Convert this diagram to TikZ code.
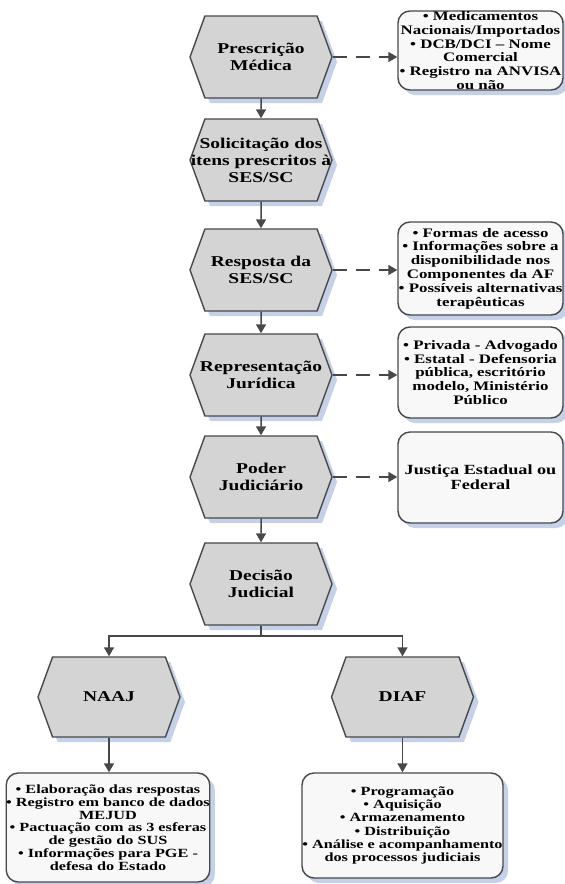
\documentclass[tikz,border=0pt]{standalone}
\usepackage{fontspec}
\setmainfont{Liberation Serif}[FakeStretch=1.3]
\usetikzlibrary{shapes,arrows,shadows}
\usetikzlibrary{arrows.meta}
\definecolor{hexgray}{RGB}{212,212,212}
\definecolor{edgegray}{RGB}{72,72,72}
\definecolor{boxwhite}{RGB}{248,248,248}
\definecolor{shadowblue}{RGB}{196,209,233}
\tikzset{%
  >={Triangle[width=10pt,length=9pt]},
  % Specifications for style of nodes:
        base/.style = {draw=edgegray, line width=1.4pt, align=center,
                       general shadow={fill=shadowblue, shadow xshift=5pt,
                                       shadow yshift=-5pt}},
       etapa/.style = {base, signal, signal to=east and west,
                       signal pointer angle=140, fill=hexgray,
                       minimum width=142pt, minimum height=82pt,
                       inner xsep=-15pt, inner ysep=0pt,
                       font=\fontsize{15}{17}\selectfont\bfseries},
     detalhe/.style = {base, rectangle, rounded corners=12pt, fill=boxwhite,
                       inner sep=0pt,
                       font=\fontsize{13}{13.8}\selectfont\bfseries},
       linha/.style = {draw=edgegray, line width=1.5pt},
}

\begin{document}
\begin{tikzpicture}[x=1pt, y=-1pt]
  \useasboundingbox (0,0) rectangle (565,884);
  % Specification of nodes (position, etc.)

\node (presc) at (261,57)   [etapa]  {Prescrição\\Médica};
\node (solic) at (261,160)  [etapa]  {Solicitação dos\\itens prescritos à\\SES/SC};
\node (resp)  at (261,270)  [etapa]  {Resposta da\\SES/SC};
\node (repr)  at (261,375)  [etapa]  {Representação\\Jurídica};
\node (poder) at (261,477)  [etapa]  {Poder\\Judiciário};
\node (decis) at (261,584)  [etapa]  {Decisão\\Judicial};
\node (naaj)  at (109,697)  [etapa, minimum height=80pt]  {NAAJ};
\node (diaf)  at (402.5,697) [etapa, minimum height=80pt] {DIAF};

\node (medic) at (480.5,50.5) [detalhe, minimum width=165pt, minimum height=79pt]
      {• Medicamentos\\Nacionais/Importados\\• DCB/DCI – Nome\\Comercial\\• Registro na ANVISA\\ou não};
\node (acesso) at (480.5,268.5) [detalhe, minimum width=165pt, minimum height=93pt]
      {• Formas de acesso\\• Informações sobre a\\disponibilidade nos\\Componentes da AF\\• Possíveis alternativas\\terapêuticas};
\node (advog) at (480.5,372.5) [detalhe, minimum width=165pt, minimum height=91pt]
      {• Privada - Advogado\\• Estatal - Defensoria\\pública, escritório\\modelo, Ministério\\Público};
\node (justica) at (480.5,477.5) [detalhe, minimum width=165pt, minimum height=91pt,
      font=\fontsize{14}{15}\selectfont\bfseries]
      {Justiça Estadual ou\\Federal};

\node (naajres) at (108,827.5) [detalhe, minimum width=200pt, minimum height=109pt,
      font=\fontsize{12.5}{12.8}\selectfont\bfseries]
      {• Elaboração das respostas\\• Registro em banco de dados\\MEJUD\\• Pactuação com as 3 esferas\\de gestão do SUS\\• Informações para PGE -\\defesa do Estado};
\node (diafres) at (402.5,825.5) [detalhe, minimum width=201pt, minimum height=105pt,
      font=\fontsize{12.5}{13.3}\selectfont\bfseries]
      {• Programação\\• Aquisição\\• Armazenamento\\• Distribuição\\• Análise e acompanhamento\\dos processos judiciais};

\draw[linha,->]     (presc) -- (solic);
\draw[linha,->]     (solic) -- (resp);
\draw[linha,->]     (resp) -- (repr);
\draw[linha,->]     (repr) -- (poder);
\draw[linha,->]     (poder) -- (decis);

\draw[linha,->,dash pattern=on 14pt off 9pt] (presc.east) -- (presc.east -| medic.west);
\draw[linha,->,dash pattern=on 14pt off 9pt] (resp.east) -- (resp.east -| acesso.west);
\draw[linha,->,dash pattern=on 14pt off 9pt] (repr.east) -- (repr.east -| advog.west);
\draw[linha,->,dash pattern=on 14pt off 9pt] (poder.east) -- (poder.east -| justica.west);

\coordinate (ramo) at (261,636);
\draw[linha]        (decis.south) -- (ramo);
\draw[linha,->]     (ramo) -| (naaj.north);
\draw[linha,->]     (ramo) -| (diaf.north);

\draw[linha,->]     (naaj.south) -- (naaj.south |- naajres.north);
\draw[linha,->]     (diaf.south) -- (diafres.north);
\end{tikzpicture}
\end{document}
